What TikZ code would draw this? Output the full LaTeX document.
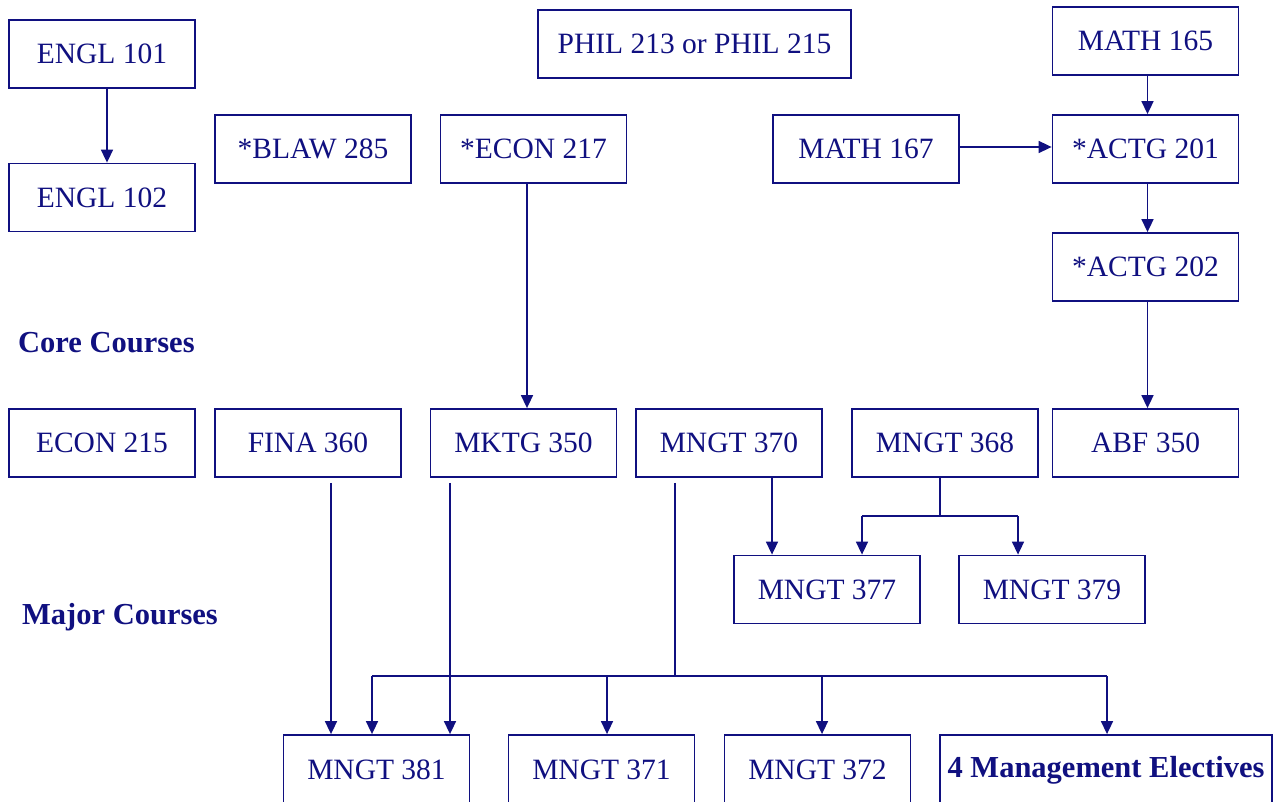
\documentclass[tikz,border=0pt]{standalone}
\usepackage{fontspec}
\setmainfont{Liberation Serif}
\usetikzlibrary{positioning,arrows.meta,calc}
\definecolor{navy}{RGB}{16,16,128}
\tikzset{
  course/.style={draw=navy, line width=1.8pt, text=navy, fill=white,
    minimum width=186pt, minimum height=68pt, inner sep=0pt,
    font=\fontsize{29.5}{34}\selectfont},
  heading/.style={text=navy, anchor=west, inner sep=0pt,
    font=\fontsize{30.5}{35}\selectfont\bfseries},
  link/.style={draw=navy, line width=1.6pt},
  prereq/.style={link, -{Triangle[length=13pt,width=12pt]}}
}

\begin{document}
\begin{tikzpicture}[x=1pt,y=-1pt]
  \useasboundingbox[fill=white] (0,0) rectangle (1276,802);

  % first year
  \node[course] (e101) at (102,54) {ENGL 101};
  \node[course] (e102) at (102,197.5) {ENGL 102};
  \node[course, minimum width=196pt] (blaw) at (313,149) {*BLAW 285};
  \node[course] (e217) at (533.5,149) {*ECON 217};
  \node[course, minimum width=313pt] (phil) at (694.5,44) {PHIL 213 or PHIL 215};
  \node[course] (m165) at (1145.5,41) {MATH 165};
  \node[course] (m167) at (866,149) {MATH 167};
  \node[course] (a201) at (1145.5,149) {*ACTG 201};
  \node[course] (a202) at (1145.5,267) {*ACTG 202};

  % core
  \node[heading] (core) at (18,343) {Core Courses};
  \node[course] (e215) at (102,443) {ECON 215};
  \node[course] (f360) at (308,443) {FINA 360};
  \node[course] (k350) at (523.5,443) {MKTG 350};
  \node[course] (n370) at (729,443) {MNGT 370};
  \node[course] (n368) at (945,443) {MNGT 368};
  \node[course] (abf) at (1145.5,443) {ABF 350};

  % major
  \node[course] (n377) at (827,589.5) {MNGT 377};
  \node[course] (n379) at (1052,589.5) {MNGT 379};
  \node[heading] (major) at (22,617) {Major Courses};
  \node[course, minimum height=70pt] (n381) at (376.5,770) {MNGT 381};
  \node[course, minimum height=70pt] (n371) at (601.5,770) {MNGT 371};
  \node[course, minimum height=70pt] (n372) at (817.5,770) {MNGT 372};
  \node[course, minimum height=70pt, minimum width=332pt, font=\fontsize{30.5}{35}\selectfont\bfseries] (elect) at (1106,770) {4 Management Electives};

  \draw[prereq] ([xshift=5]e101.south) -- ([xshift=5]e101.south |- e102.north);
  \draw[prereq] ([xshift=-6.5]e217.south) -- ([xshift=-6.5]e217.south |- k350.north);
  \draw[prereq] ([yshift=2]m167.east) -- ([yshift=2]m167.east -| a201.west);
  \draw[prereq] ([xshift=2]m165.south) -- ([xshift=2]m165.south |- a201.north);
  \draw[prereq] ([xshift=2]a201.south) -- ([xshift=2]a201.south |- a202.north);
  \draw[prereq] ([xshift=2]a202.south) -- ([xshift=2]a202.south |- abf.north);

  \draw[prereq] ([xshift=43]n370.south) -- ([xshift=43]n370.south |- n377.north);
  \coordinate (splitL) at (862,516);
  \coordinate (splitR) at (1018,516);
  \draw[link] ([xshift=-5]n368.south) -- ([xshift=-5]n368.south |- splitL);
  \draw[link] (splitL) -- (splitR);
  \draw[prereq] (splitL) -- (splitL |- n377.north);
  \draw[prereq] (splitR) -- (splitR |- n379.north);

  \draw[prereq, shorten <=5pt] ([xshift=23]f360.south) -- ([xshift=23]f360.south |- n381.north);
  \draw[prereq, shorten <=5pt] ([xshift=-73.5]k350.south) -- ([xshift=-73.5]k350.south |- n381.north);

  \coordinate (busL) at (372,676);
  \coordinate (busR) at (1107,676);
  \draw[link, shorten <=5pt] ([xshift=-54]n370.south) -- ([xshift=-54]n370.south |- busL);
  \draw[link] (busL) -- (busR);
  \draw[prereq] (busL) -- (busL |- n381.north);
  \draw[prereq] (busL -| 607,0) -- (607,0 |- n371.north);
  \draw[prereq] (busL -| 822,0) -- (822,0 |- n372.north);
  \draw[prereq] (busR) -- (busR |- elect.north);
\end{tikzpicture}
\end{document}
